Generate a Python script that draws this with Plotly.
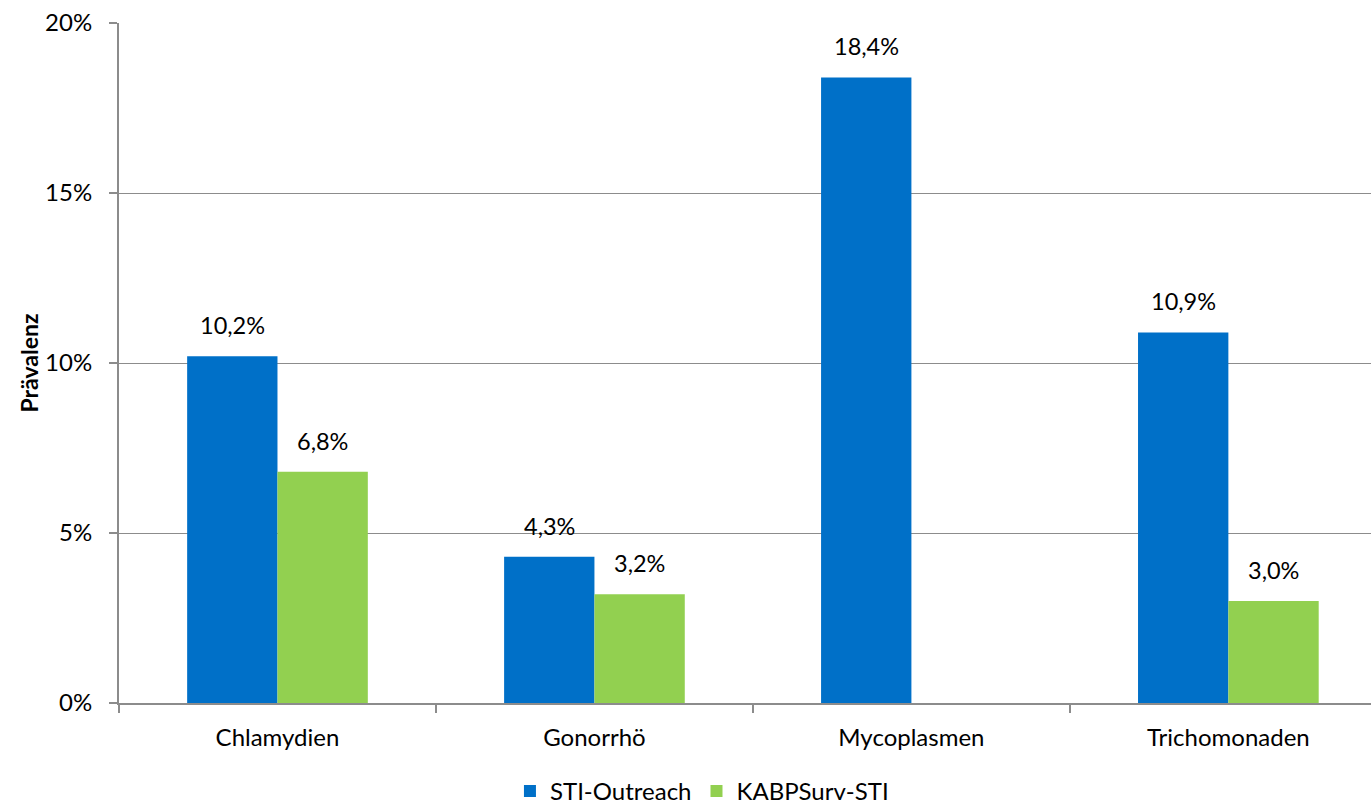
import plotly.graph_objects as go

categories = ["Chlamydien", "Gonorrhö", "Mycoplasmen", "Trichomonaden"]
sti_outreach = [10.2, 4.3, 18.4, 10.9]
kabpsurv = [6.8, 3.2, None, 3.0]
series_names = ["STI-Outreach", "KABPSurv-STI"]
y_ticks = [0, 5, 10, 15, 20]
y_tick_labels = ["0%", "5%", "10%", "15%", "20%"]

FONT = "Lato"
BLUE = "#0070C8"
GREEN = "#92D050"
GRAY = "#8c8c8c"
FS = 24

fig = go.Figure()
fig.add_trace(go.Bar(name=series_names[0], x=categories, y=sti_outreach,
                     marker=dict(color=BLUE, line=dict(width=0))))
fig.add_trace(go.Bar(name=series_names[1], x=categories, y=kabpsurv,
                     marker=dict(color=GREEN, line=dict(width=0))))

for vals, shift in ((sti_outreach, -45), (kabpsurv, 45)):
    for c, v in zip(categories, vals):
        if v is None:
            continue
        fig.add_annotation(x=c, y=v, text=f"{v:.1f}%".replace(".", ","),
                           showarrow=False, xshift=shift, yshift=15,
                           yanchor="bottom", font=dict(family=FONT, size=23.5, color="#000"))

fig.update_layout(
    width=1371, height=805,
    margin=dict(l=119, r=0, t=23, b=102),
    barmode="group", bargap=0.43, bargroupgap=0,
    plot_bgcolor="white", paper_bgcolor="white",
    font=dict(family=FONT, size=FS, color="#000"),
    showlegend=True,
    legend=dict(orientation="h", xref="container", x=0.512, xanchor="center",
                yref="container", y=0.045, yanchor="top",
                font=dict(family=FONT, size=FS), tracegroupgap=0),
    xaxis=dict(range=[-0.5, 3.45], showline=True, linecolor=GRAY, linewidth=2,
               ticks="outside", tickson="boundaries", ticklen=8, tickcolor=GRAY,
               tickwidth=2, showgrid=False, ticklabelstandoff=12,
               tickfont=dict(family=FONT, size=FS)),
    yaxis=dict(range=[0, 20], tickvals=y_ticks, ticktext=y_tick_labels,
               showline=True, linecolor=GRAY, linewidth=2, ticks="outside",
               ticklen=8, tickcolor=GRAY, tickwidth=2, showgrid=True,
               gridcolor=GRAY, gridwidth=1.3, zeroline=False,
               ticklabelstandoff=12,
               tickfont=dict(family=FONT, size=FS),
               title=dict(text="<b>Prävalenz</b>", standoff=0,
                          font=dict(family=FONT, size=23))),
)

fig.write_html("out.html")
